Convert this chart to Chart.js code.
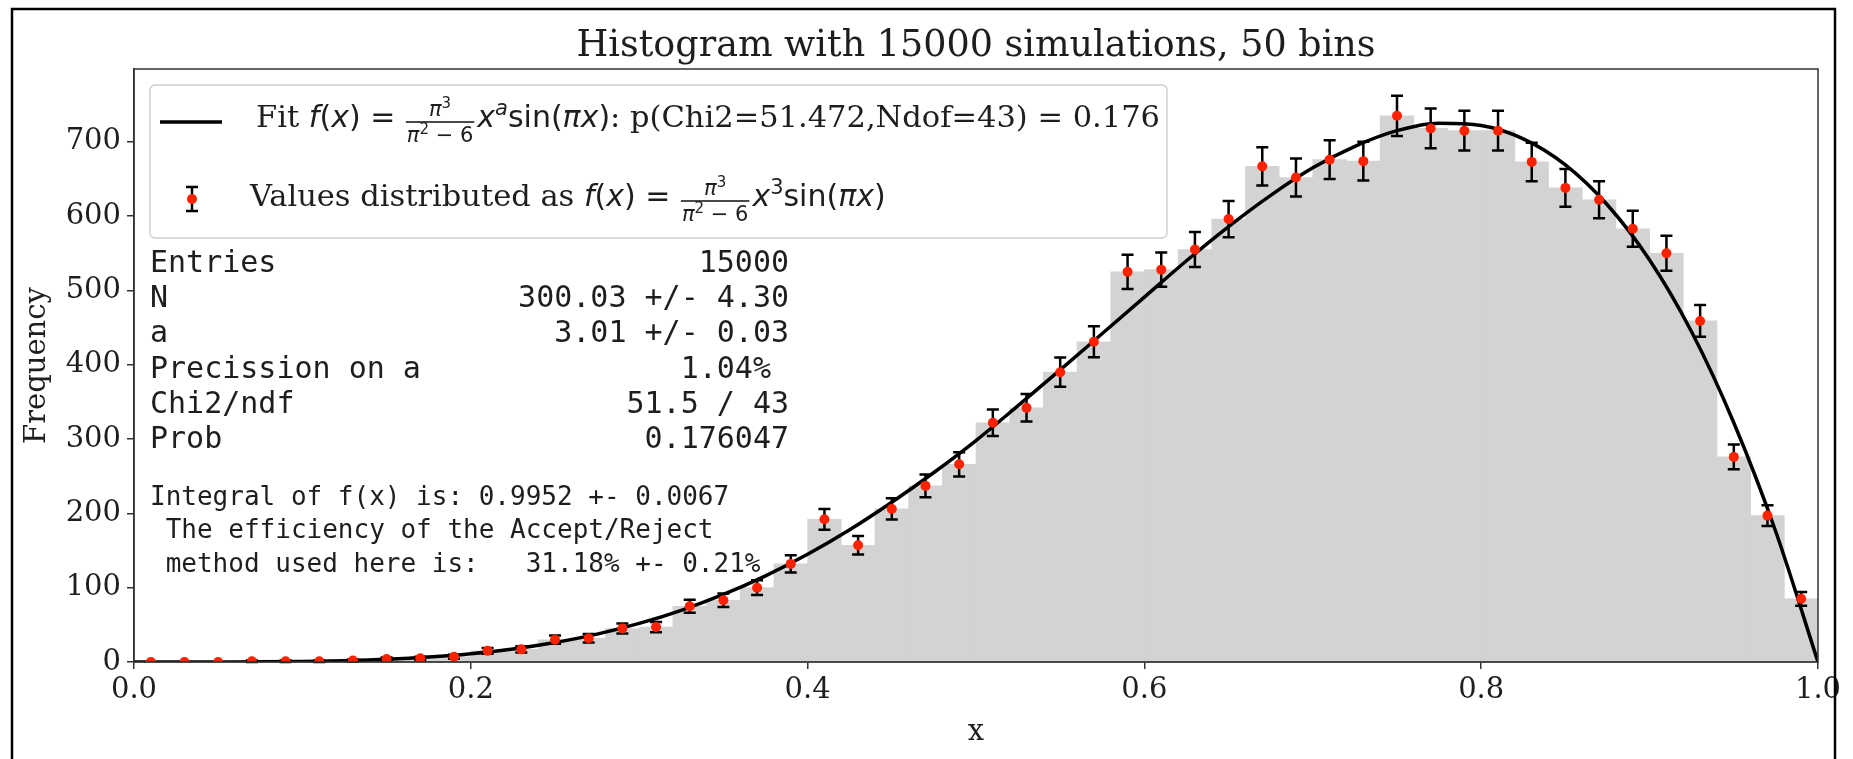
<!DOCTYPE html>
<html>
<head>
<meta charset="utf-8">
<script src="https://cdn.jsdelivr.net/npm/chart.js@4.4.1/dist/chart.umd.min.js"></script>
<style>
  html, body { margin: 0; padding: 0; background: #fff; overflow: hidden; }
  #wrap { position: relative; width: 1853px; height: 759px; }
</style>
</head>
<body>
<div id="wrap"><canvas id="histChart"></canvas></div>
<script>
// --- data ---
const binCenters = [0.01, 0.03, 0.05, 0.07, 0.09, 0.11, 0.13, 0.15, 0.17, 0.19,
                    0.21, 0.23, 0.25, 0.27, 0.29, 0.31, 0.33, 0.35, 0.37, 0.39,
                    0.41, 0.43, 0.45, 0.47, 0.49, 0.51, 0.53, 0.55, 0.57, 0.59,
                    0.61, 0.63, 0.65, 0.67, 0.69, 0.71, 0.73, 0.75, 0.77, 0.79,
                    0.81, 0.83, 0.85, 0.87, 0.89, 0.91, 0.93, 0.95, 0.97, 0.99];
const counts = [0, 0, 0, 1, 1, 1, 2, 4, 5, 7,
                15, 17, 30, 32, 45, 47, 75, 83, 100, 132,
                192, 157, 206, 237, 266, 322, 342, 390, 431, 525,
                528, 555, 596, 667, 652, 676, 674, 735, 718, 715,
                715, 673, 638, 622, 583, 550, 459, 276, 197, 85];
const errors = [0, 0, 0, 1, 1, 1, 1.4, 2, 2.2, 2.6,
                3.9, 4.1, 5.5, 5.7, 6.7, 6.9, 8.7, 9.1, 10, 11.5,
                13.9, 12.5, 14.4, 15.4, 16.3, 17.9, 18.5, 19.7, 20.8, 22.9,
                23, 23.6, 24.4, 25.8, 25.5, 26, 26, 27.1, 26.8, 26.7,
                26.7, 25.9, 25.3, 24.9, 24.1, 23.5, 21.4, 16.6, 14, 9.2];
const fitX = [0, 0.025, 0.05, 0.075, 0.1, 0.125, 0.15, 0.175, 0.2, 0.225,
              0.25, 0.275, 0.3, 0.325, 0.35, 0.375, 0.4, 0.425, 0.45, 0.475,
              0.5, 0.525, 0.55, 0.575, 0.6, 0.625, 0.65, 0.675, 0.7, 0.725,
              0.75, 0.775, 0.8, 0.825, 0.85, 0.875, 0.9, 0.925, 0.95, 0.975, 1];
const fitY = [0, 0, 0.1, 0.2, 0.7, 1.8, 3.6, 6.6, 11.1, 17.5,
              26.2, 37.5, 51.9, 69.6, 90.9, 116, 145, 178, 215, 255,
              298, 345, 393, 442, 491, 540, 586, 628, 665, 694,
              715, 725, 722, 704, 669, 615, 541, 444, 322, 175, 0];
const xTicks = [0, 0.2, 0.4, 0.6, 0.8, 1.0];
const yTicks = [0, 100, 200, 300, 400, 500, 600, 700];

const statLabels = ['Entries', 'N', 'a', 'Precission on a', 'Chi2/ndf', 'Prob'];
const statValues = ['15000', '300.03 +/- 4.30', '3.01 +/- 0.03', '1.04% ', '51.5 / 43', '0.176047'];
const noteLines = ['Integral of f(x) is: 0.9952 +- 0.0067',
                   ' The efficiency of the Accept/Reject',
                   ' method used here is:   31.18% +- 0.21%'];

const SERIF = "'DejaVu Serif', serif";
const SANS = "'DejaVu Sans', sans-serif";
const MONO = "'DejaVu Sans Mono', monospace";
const TEXT = '#1e1e1e';

Chart.defaults.font.family = SERIF;
Chart.defaults.color = TEXT;

// --- legend with mathtext-like runs ---
const LS = 30;
const fSerif = `30.5px ${SERIF}`;
const fIt = `italic ${LS}px ${SANS}`;
const fUp = `${LS}px ${SANS}`;
const fSmIt = `italic 21px ${SANS}`;
const fSm = `21px ${SANS}`;
const fTiny = `15px ${SANS}`;

const piFrac = {
  num: [{ t: 'π', f: fSmIt }, { t: '3', f: fTiny, dy: -8 }],
  den: [{ t: 'π', f: fSmIt }, { t: '2', f: fTiny, dy: -8 }, { t: ' − 6', f: fSm }]
};
const fxEq = [{ t: 'f', f: fIt }, { t: '(', f: fUp }, { t: 'x', f: fIt }, { t: ')', f: fUp }, { t: ' = ', f: fUp }, piFrac];
const sinPart = [{ t: 'sin(', f: fUp }, { t: 'π', f: fIt }, { t: 'x', f: fIt }, { t: ')', f: fUp }];

const legendRow1 = [{ t: 'Fit ', f: fSerif }, ...fxEq, { t: 'x', f: fIt }, { t: 'a', f: fSmIt, dy: -12 },
                    ...sinPart, { t: ': p(Chi2=51.472,Ndof=43) = 0.176', f: fSerif }];
const legendRow2 = [{ t: 'Values distributed as ', f: fSerif }, ...fxEq, { t: 'x', f: fIt }, { t: '3', f: fSm, dy: -12 },
                    ...sinPart];

function runWidth(ctx, runs) {
  let w = 0;
  runs.forEach(r => { ctx.font = r.f; w += ctx.measureText(r.t).width; });
  return w;
}

function drawRuns(ctx, runs, x, y) {
  runs.forEach(r => {
    if (r.num) {
      const wn = runWidth(ctx, r.num), wd = runWidth(ctx, r.den);
      const w = Math.max(wn, wd) + 4;
      const bar = y - 5;
      ctx.fillRect(x + 1, bar - 0.8, w - 2, 1.6);
      drawRuns(ctx, r.num, x + (w - wn) / 2, bar - 6);
      drawRuns(ctx, r.den, x + (w - wd) / 2, bar + 20);
      x += w + 2;
    } else {
      ctx.font = r.f;
      ctx.fillText(r.t, x, y + (r.dy || 0));
      x += ctx.measureText(r.t).width;
    }
  });
  return x;
}

const overlays = {
  id: 'overlays',
  beforeDatasetDraw(chart, args) {
    if (args.index !== 2) return;
    const { ctx, scales: { x, y } } = chart;
    ctx.save();
    ctx.strokeStyle = '#000';
    ctx.lineWidth = 2.5;
    ctx.beginPath();
    binCenters.forEach((c, i) => {
      if (!errors[i]) return;
      const px = x.getPixelForValue(c);
      const y1 = y.getPixelForValue(counts[i] + errors[i]);
      const y2 = y.getPixelForValue(counts[i] - errors[i]);
      ctx.moveTo(px, y1); ctx.lineTo(px, y2);
      ctx.moveTo(px - 6, y1); ctx.lineTo(px + 6, y1);
      ctx.moveTo(px - 6, y2); ctx.lineTo(px + 6, y2);
    });
    ctx.stroke();
    ctx.restore();
  },
  afterDatasetsDraw(chart) {
    const { ctx, chartArea: { left, top, right, bottom } } = chart;
    ctx.save();

    // axes spines
    ctx.strokeStyle = '#333';
    ctx.lineWidth = 1.5;
    ctx.strokeRect(left, top, right - left, bottom - top);

    // legend box
    ctx.fillStyle = 'rgba(255,255,255,0.8)';
    ctx.strokeStyle = '#d0d0d0';
    ctx.lineWidth = 1.5;
    ctx.beginPath();
    ctx.roundRect(150, 85, 1017, 153, 5);
    ctx.fill();
    ctx.stroke();

    // legend handles
    ctx.strokeStyle = '#000';
    ctx.lineWidth = 3.5;
    ctx.beginPath();
    ctx.moveTo(160, 122); ctx.lineTo(222, 122);
    ctx.stroke();
    ctx.lineWidth = 2.5;
    ctx.beginPath();
    ctx.moveTo(192, 187); ctx.lineTo(192, 211);
    ctx.moveTo(186, 187); ctx.lineTo(198, 187);
    ctx.moveTo(186, 211); ctx.lineTo(198, 211);
    ctx.stroke();
    ctx.fillStyle = '#ff2200';
    ctx.beginPath();
    ctx.arc(192, 199, 5, 0, Math.PI * 2);
    ctx.fill();

    // legend text
    ctx.fillStyle = TEXT;
    ctx.textBaseline = 'alphabetic';
    ctx.textAlign = 'left';
    drawRuns(ctx, legendRow1, 256, 127);
    drawRuns(ctx, legendRow2, 250, 206);

    // fit statistics
    ctx.font = `30px ${MONO}`;
    statLabels.forEach((s, i) => {
      const yy = 271.7 + i * 35.3;
      ctx.textAlign = 'left';
      ctx.fillText(s, 150, yy);
      ctx.textAlign = 'right';
      ctx.fillText(statValues[i], 789, yy);
    });
    ctx.textAlign = 'left';
    ctx.font = `26px ${MONO}`;
    noteLines.forEach((s, i) => ctx.fillText(s, 150, 505 + i * 33.3));

    ctx.restore();
  },
  afterDraw(chart) {
    const { ctx } = chart;
    ctx.save();
    ctx.strokeStyle = '#000';
    ctx.lineWidth = 2.5;
    ctx.strokeRect(12, 9, 1823, 800);
    ctx.restore();
  }
};

new Chart(document.getElementById('histChart'), {
  type: 'bar',
  data: {
    datasets: [{
      type: 'bar',
      data: binCenters.map((c, i) => ({ x: c, y: counts[i] })),
      backgroundColor: '#d3d3d3',
      borderWidth: 0,
      barPercentage: 1,
      categoryPercentage: 1,
      order: 3
    }, {
      type: 'line',
      data: fitX.map((v, i) => ({ x: v, y: fitY[i] })),
      borderColor: '#000',
      borderWidth: 3.5,
      pointRadius: 0,
      fill: false,
      cubicInterpolationMode: 'monotone',
      order: 2
    }, {
      type: 'scatter',
      data: binCenters.map((c, i) => ({ x: c, y: counts[i] })),
      backgroundColor: '#ff2200',
      pointRadius: 5,
      pointBorderWidth: 0,
      order: 1
    }]
  },
  options: {
    responsive: true,
    maintainAspectRatio: false,
    animation: false,
    layout: { padding: { left: 0, right: 35, top: 0, bottom: 0 } },
    plugins: {
      legend: { display: false },
      tooltip: { enabled: false },
      title: {
        display: true,
        fullSize: false,
        text: 'Histogram with 15000 simulations, 50 bins',
        color: TEXT,
        font: { size: 36.5, weight: 'normal', family: SERIF, lineHeight: 1.2 },
        padding: { top: 24.5, bottom: 0.7 }
      }
    },
    scales: {
      x: {
        type: 'linear',
        min: 0, max: 1,
        offset: false,
        afterFit: (s) => { s.height = 97; },
        afterBuildTicks: (s) => { s.ticks = xTicks.map(v => ({ value: v })); },
        grid: { display: true, drawOnChartArea: false, drawTicks: true, tickLength: 7, color: '#333', lineWidth: 1.5, offset: false },
        border: { display: true, color: '#333', width: 1.5 },
        ticks: { color: TEXT, font: { size: 29 }, padding: 4, maxRotation: 0, autoSkip: false,
                 callback: (v) => v.toFixed(1) },
        title: { display: true, text: 'x', color: TEXT, font: { size: 29 }, padding: { top: 0, bottom: 9 } }
      },
      y: {
        min: 0, max: 798,
        afterFit: (s) => { s.width = 134; },
        afterBuildTicks: (s) => { s.ticks = yTicks.map(v => ({ value: v })); },
        grid: { display: true, drawOnChartArea: false, drawTicks: true, tickLength: 7, color: '#333', lineWidth: 1.5 },
        border: { display: true, color: '#333', width: 1.5 },
        ticks: { color: TEXT, font: { size: 29 }, padding: 6, autoSkip: false, callback: (v) => String(v) },
        title: { display: true, text: 'Frequency', color: TEXT, font: { size: 29 }, padding: { top: 20, bottom: 0 } }
      }
    }
  },
  plugins: [overlays]
});
</script>
</body>
</html>
